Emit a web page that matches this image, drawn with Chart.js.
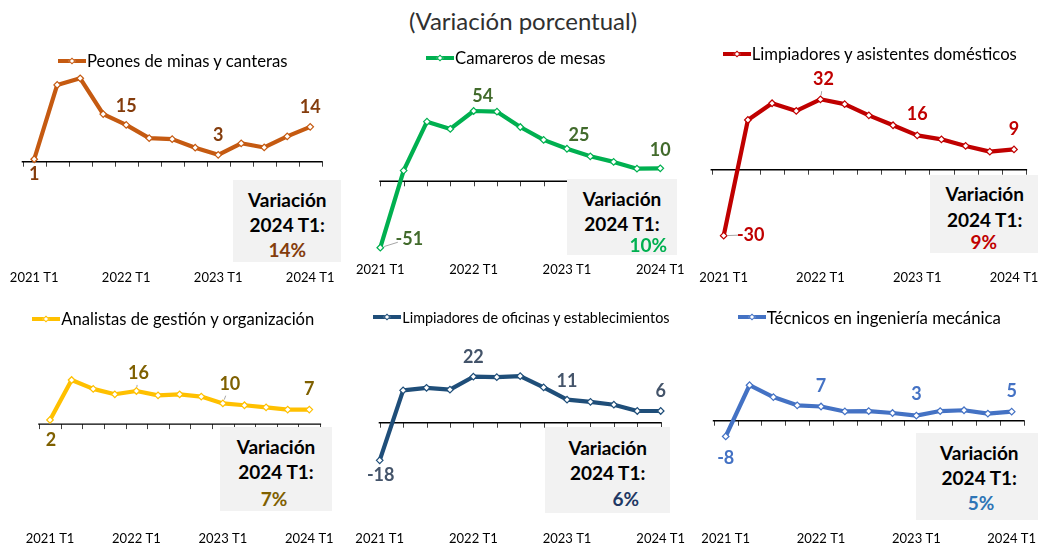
<!DOCTYPE html>
<html><head><meta charset="utf-8">
<script src="https://cdn.jsdelivr.net/npm/chart.js@4.4.1/dist/chart.umd.min.js"></script>
<style>
html,body{margin:0;padding:0;width:1038px;height:547px;overflow:hidden;background:#fff;font-family:Lato,'Liberation Sans',sans-serif;}
canvas{position:absolute;}
#title{position:absolute;left:523px;top:20px;transform:translate(-50%,-50%);font-size:24px;color:#303030;white-space:nowrap;}
.box{position:absolute;background:#f2f2f2;}
.bt{position:absolute;transform:translate(-50%,-50%);font-weight:bold;font-size:19px;white-space:nowrap;color:#000;line-height:1;}
.leg{position:absolute;display:flex;align-items:center;white-space:nowrap;color:#000;height:20px;}
.legline{position:relative;height:4px;width:28px;}
.legdot{position:absolute;left:50%;top:50%;width:5px;height:5px;background:#fff;transform:translate(-50%,-50%) rotate(45deg);box-sizing:border-box;}
</style></head><body>
<div id="title">(Variación porcentual)</div>
<script>
// ---------- DATA ----------
const categories = ['2021 T1','2021 T2','2021 T3','2021 T4','2022 T1','2022 T2','2022 T3','2022 T4','2023 T1','2023 T2','2023 T3','2023 T4','2024 T1'];
const peones     = [1, 31.3, 34.0, 19.4, 15, 9.6, 9.2, 5.7, 2.8, 7.5, 5.8, 10.3, 14.2];
const camareros  = [-51, 8.2, 45.8, 40.2, 54, 53.5, 41.7, 31.8, 25, 19.2, 14.9, 9.7, 10];
const limpDomesticos = [-30, 22.6, 30.2, 26.7, 32, 29.8, 24.7, 20.2, 15.6, 13.8, 10.8, 8.2, 9.2];
const analistas  = [2, 21.3, 17.0, 14.4, 16, 13.9, 14.4, 13.3, 10, 9.1, 8.1, 7, 7];
const limpOficinas = [-18, 15.5, 16.7, 15.8, 22, 21.8, 22.3, 16.9, 11, 10.0, 8.6, 5.6, 5.6];
const tecnicos   = [-8, 18.0, 12.0, 7.8, 7.2, 4.7, 4.9, 3.9, 2.6, 4.9, 5.3, 3.6, 4.6];
const seriesNames = ['Peones de minas y canteras','Camareros de mesas','Limpiadores y asistentes domésticos','Analistas de gestión y organización','Limpiadores de oficinas y establecimientos','Técnicos en ingeniería mecánica'];
const labeledIdx = [0, 4, 8, 12];
const boxLine1 = 'Variación';
const boxLine2 = '2024 T1:';

// ---------- LAYOUT / STYLE ----------
const seriesData = [peones, camareros, limpDomesticos, analistas, limpOficinas, tecnicos];
const panels = [
 {color:'#C55A11', lab:'#843C0C', pct:'#843C0C', offset:true, L:22.7, R:321.7, zero:161.7, ppu:2.453, labelY:278, top:68, row:0,
  dl:[[0,15],[0,-19],[0,-20],[0,-20]], leaders:[],
  legend:{x:58, y:60.7, size:16.7}, box:{x:232.7,y:180,w:108,h:81.7,cx:287.3,ys:[199.3,223.7,249.3],vx:287.3}},
 {color:'#00B050', lab:'#426B2C', pct:'#00B050', offset:false, L:380.3, R:660.3, zero:181.3, ppu:1.302, labelY:270, top:68, row:0,
  dl:[[29,-9],[9,-15],[12,-14],[0,-18]], leaders:[0],
  legend:{x:426, y:58.3, size:16.7}, box:{x:567,y:179.3,w:110,h:75.7,cx:622,ys:[198.3,223.3,244],vx:648.3}},
 {color:'#C00000', lab:'#C00000', pct:'#C00000', offset:true, L:711.6, R:1026.1, zero:169.7, ppu:2.2, labelY:278.3, top:65, row:0,
  dl:[[27,-1],[3,-20],[0,-21],[0,-20]], leaders:[0,4],
  legend:{x:722.7, y:54.3, size:16.7}, box:{x:930,y:175,w:108,h:78.3,cx:984.7,ys:[193.3,219.3,241],vx:983.7}},
 {color:'#FFC000', lab:'#7F6000', pct:'#7F6000', offset:true, L:39.2, R:320.1, zero:424.1, ppu:2.07, labelY:539.3, top:360, row:1,
  dl:[[1,20],[2,-18],[7,-19],[0,-20]], leaders:[4,8],
  legend:{x:32.3, y:319.3, size:16.6}, box:{x:220,y:426.7,w:111.7,h:84,cx:276,ys:[446,471,497.7],vx:274}},
 {color:'#1F4E79', lab:'#44546A', pct:'#1F3864', offset:false, L:379.7, R:660.7, zero:422.7, ppu:2.09, labelY:539.3, top:360, row:1,
  dl:[[1,15],[0,-20],[0,-19],[0,-20]], leaders:[],
  legend:{x:373.3, y:317.3, size:14.4}, box:{x:545,y:427.3,w:125,h:86,cx:607.7,ys:[446.7,472,497.7],vx:625.7}},
 {color:'#4472C4', lab:'#4472C4', pct:'#2E75B6', offset:true, L:713.8, R:1023.6, zero:420.7, ppu:1.97, labelY:539.3, top:360, row:1,
  dl:[[0,22],[0,-20],[0,-21],[0,-20]], leaders:[],
  legend:{x:737.7, y:317.3, size:16.8}, box:{x:916,y:433.3,w:122,h:86.7,cx:979.3,ys:[451.7,476.7,501.7],vx:981}}
];
const FONT = "Lato, 'Liberation Sans', sans-serif";
const TICK_SIZE = 13;

const zeroAxisPlugin = {
  id:'zeroAxis',
  beforeDatasetsDraw(chart){
    const p = chart.options.plugins.zeroAxis.panel;
    const x = chart.scales.x, y = chart.scales.y, ctx = chart.ctx;
    const y0 = y.getPixelForValue(0);
    const n = categories.length;
    const step = x.getPixelForValue(1) - x.getPixelForValue(0);
    let ticks = [];
    if (p.offset) { for (let i=0;i<=n;i++) ticks.push(x.getPixelForValue(0) - step/2 + i*step); }
    else { for (let i=0;i<n;i++) ticks.push(x.getPixelForValue(i)); }
    ctx.save();
    ctx.strokeStyle = '#404040'; ctx.lineWidth = 1;
    ticks.forEach(t=>{ ctx.beginPath(); ctx.moveTo(Math.round(t)+0.5, y0); ctx.lineTo(Math.round(t)+0.5, y0+5); ctx.stroke(); });
    ctx.strokeStyle = '#000'; ctx.lineWidth = 1.4;
    ctx.beginPath(); ctx.moveTo(ticks[0]-1, y0); ctx.lineTo(ticks[ticks.length-1]+1, y0); ctx.stroke();
    ctx.restore();
  }
};
const valueLabelPlugin = {
  id:'valueLabels',
  afterDatasetsDraw(chart){
    const p = chart.options.plugins.valueLabels.panel;
    const meta = chart.getDatasetMeta(0);
    const data = chart.data.datasets[0].data;
    const ctx = chart.ctx;
    ctx.save();
    labeledIdx.forEach((idx,k)=>{
      const pt = meta.data[idx];
      const [dx,dy] = p.dl[k];
      const lx = pt.x+dx, ly = pt.y+dy;
      if (p.leaders.includes(idx)) {
        const d = Math.hypot(dx,dy), ux = dx/d, uy = dy/d;
        ctx.strokeStyle = '#A6A6A6'; ctx.lineWidth = 1;
        ctx.beginPath(); ctx.moveTo(pt.x+ux*4, pt.y+uy*4); ctx.lineTo(pt.x+ux*(d-12), pt.y+uy*(d-12)); ctx.stroke();
      }
      ctx.fillStyle = p.lab;
      ctx.font = 'bold 18px ' + FONT;
      ctx.textAlign = 'center'; ctx.textBaseline = 'middle';
      ctx.fillText(String(Math.round(data[idx])), lx, ly);
    });
    ctx.restore();
  }
};

panels.forEach((p, i)=>{
  const rowTop = p.row===0 ? 40 : 300, rowBot = p.row===0 ? 300 : 547;
  const cl = Math.floor(p.L - 45), cr = Math.ceil(p.R + 45);
  const cv = document.createElement('canvas');
  cv.width = cr - cl; cv.height = rowBot - rowTop;
  cv.style.left = cl+'px'; cv.style.top = rowTop+'px';
  document.body.appendChild(cv);
  const lh = TICK_SIZE*1.2;
  const pad = {left: p.L - cl, right: cr - p.R, top: p.top - rowTop, bottom: rowBot - p.labelY - lh/2 - 3};
  const chart = new Chart(cv, {
    type:'line',
    data:{ labels: categories, datasets:[{ label: seriesNames[i], data: seriesData[i],
      borderColor:p.color, borderWidth:4.2, tension:0, borderCapStyle:'round', borderJoinStyle:'round',
      pointStyle:'rectRot', pointRadius:3.3, pointBorderWidth:1.2, pointBackgroundColor:'#fff', pointBorderColor:p.color,
      clip:false }]},
    options:{
      responsive:false, animation:false, events:[],
      layout:{padding:pad},
      plugins:{ legend:{display:false}, tooltip:{enabled:false}, zeroAxis:{panel:p}, valueLabels:{panel:p} },
      scales:{
        x:{ offset:p.offset, grid:{display:false, drawTicks:false}, border:{display:false},
            ticks:{ autoSkip:false, maxRotation:0, padding:3, color:'#000', font:{family:FONT, size:TICK_SIZE, lineHeight:1.2},
                    callback(v, idx){ return idx % 4 === 0 ? this.getLabelForValue(v) : ''; } } },
        y:{ display:false, min:-10, max:10 }
      }
    },
    plugins:[zeroAxisPlugin, valueLabelPlugin]
  });
  // fit chart area to target pixel geometry
  for (let it=0; it<2; it++) {
    const a = chart.chartArea;
    const wantBottom = p.labelY - rowTop - lh/2 - 3;
    pad.bottom += (a.bottom - wantBottom);
    pad.left += (p.L - cl) - a.left;
    pad.right += a.right - (p.R - cl);
    pad.top += (p.top - rowTop) - a.top;
    chart.options.layout.padding = {...pad};
    chart.update('none');
  }
  const a = chart.chartArea;
  const z = p.zero - rowTop;
  chart.options.scales.y.min = -(a.bottom - z)/p.ppu;
  chart.options.scales.y.max = (z - a.top)/p.ppu;
  chart.update('none');

  // legend (HTML)
  const leg = document.createElement('div');
  leg.className = 'leg';
  leg.style.left = p.legend.x+'px'; leg.style.top = (p.legend.y-10)+'px'; leg.style.fontSize = p.legend.size+'px';
  const ln = document.createElement('span'); ln.className='legline'; ln.style.background = p.color;
  const dot = document.createElement('span'); dot.className='legdot'; dot.style.border = '1.2px solid '+p.color;
  ln.appendChild(dot); leg.appendChild(ln);
  const tx = document.createElement('span'); tx.textContent = seriesNames[i]; tx.style.marginLeft='1px';
  leg.appendChild(tx);
  document.body.appendChild(leg);

  // summary box
  const b = p.box;
  const bx = document.createElement('div'); bx.className='box';
  bx.style.left=b.x+'px'; bx.style.top=b.y+'px'; bx.style.width=b.w+'px'; bx.style.height=b.h+'px';
  document.body.appendChild(bx);
  const data = seriesData[i];
  const texts = [[boxLine1, b.cx, b.ys[0], '#000'], [boxLine2, b.cx, b.ys[1], '#000'], [Math.round(data[data.length-1])+'%', b.vx, b.ys[2], p.pct]];
  texts.forEach(([t,x,y,c])=>{
    const d = document.createElement('div'); d.className='bt'; d.textContent=t;
    d.style.left=x+'px'; d.style.top=y+'px'; d.style.color=c;
    document.body.appendChild(d);
  });
});
</script>
</body></html>
